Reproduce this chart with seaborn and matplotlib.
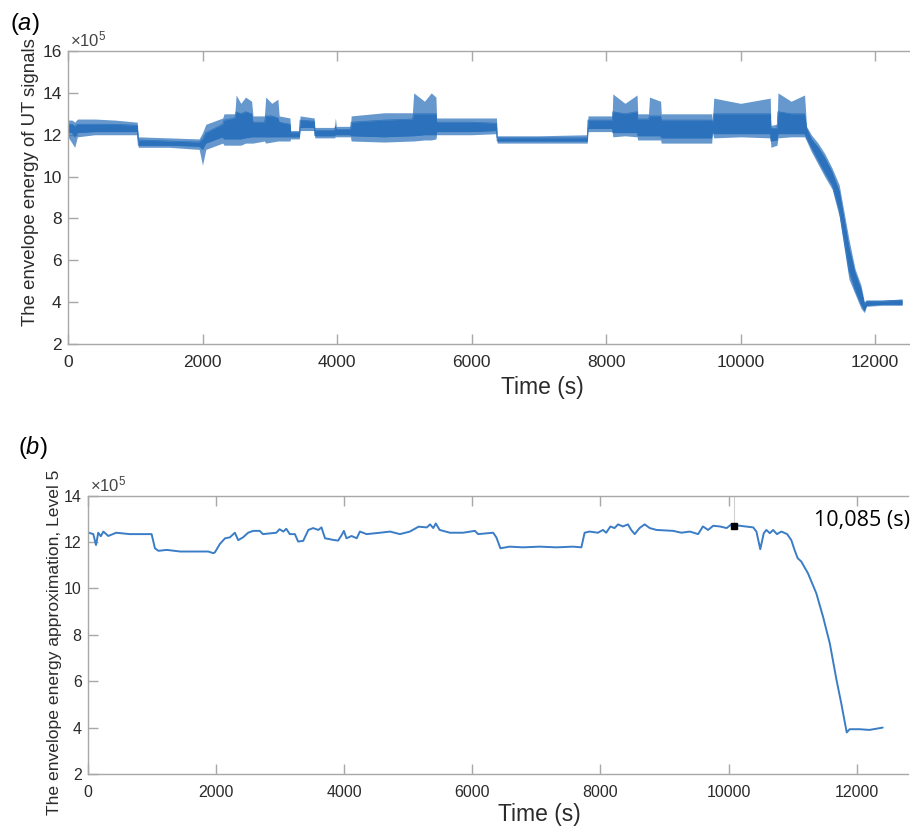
import matplotlib
matplotlib.use("Agg")
import matplotlib.pyplot as plt
import seaborn as sns
import pandas as pd

# ---- (a) raw envelope energy (x1e5): outer spread and dense core of the noisy trace ----
t_env = [0, 60, 100, 140, 400, 700, 1030, 1045, 1500, 1950,
         2000, 2050, 2300, 2320, 2480, 2500, 2570, 2640, 2730, 2750,
         2920, 2940, 3030, 3120, 3140, 3300, 3310, 3440, 3450, 3660,
         3670, 3960, 3975, 3990, 4200, 4210, 4700, 5120, 5140, 5300,
         5400, 5470, 5480, 6000, 6370, 6380, 7000, 7720, 7730, 8090,
         8100, 8280, 8460, 8470, 8630, 8645, 8810, 8820, 9570, 9580,
         9600, 10000, 10440, 10450, 10540, 10555, 10750, 10950, 10980, 11050,
         11150, 11250, 11360, 11465, 11610, 11700, 11790, 11840, 11870, 12100,
         12400]
outer_lo = [11.9, 11.6, 11.4, 11.9, 12.0, 12.0, 12.0, 11.4, 11.4, 11.3,
            10.55, 11.3, 11.6, 11.5, 11.5, 11.5, 11.5, 11.6, 11.6, 11.6,
            11.7, 11.6, 11.65, 11.7, 11.7, 11.7, 11.8, 11.8, 12.2, 12.2,
            11.85, 11.85, 11.9, 11.9, 11.9, 11.7, 11.65, 11.7, 11.7, 11.75,
            11.75, 11.8, 12.0, 12.0, 12.05, 11.6, 11.6, 11.6, 12.15, 12.15,
            11.9, 11.95, 11.9, 11.75, 11.75, 11.75, 11.75, 11.6, 11.6, 12.1,
            11.85, 11.9, 11.85, 11.4, 11.5, 11.85, 11.9, 11.9, 11.7, 11.2,
            10.6, 10.0, 9.4, 8.1, 5.1, 4.4, 3.7, 3.5, 3.8, 3.85,
            3.85]
outer_hi = [12.7, 12.7, 12.6, 12.75, 12.75, 12.7, 12.6, 11.9, 11.85, 11.8,
            12.1, 12.5, 12.8, 13.0, 13.0, 13.9, 13.5, 13.8, 13.6, 12.9,
            12.9, 13.8, 13.5, 13.7, 12.9, 12.8, 12.2, 12.2, 12.9, 12.8,
            12.35, 12.35, 12.8, 12.4, 12.4, 12.9, 13.05, 13.05, 14.0, 13.6,
            14.0, 13.8, 12.8, 12.8, 12.8, 11.95, 11.95, 12.0, 12.9, 12.9,
            13.95, 13.5, 13.9, 13.0, 13.0, 13.8, 13.6, 13.0, 13.0, 12.6,
            13.75, 13.5, 13.75, 12.45, 12.5, 14.0, 13.6, 13.9, 12.4, 12.0,
            11.6, 11.1, 10.4, 9.6, 7.0, 5.6, 4.8, 4.0, 4.1, 4.1,
            4.15]
core_lo = [12.1, 12.1, 11.9, 12.1, 12.15, 12.15, 12.15, 11.5, 11.5, 11.45,
           11.3, 11.6, 11.9, 11.8, 11.8, 11.8, 11.8, 11.85, 11.9, 11.9,
           11.9, 11.9, 11.9, 11.9, 11.9, 11.9, 11.9, 11.9, 12.35, 12.35,
           11.95, 11.95, 12.0, 12.0, 12.0, 11.95, 11.9, 11.95, 11.95, 12.0,
           12.0, 12.0, 12.15, 12.15, 12.2, 11.7, 11.7, 11.7, 12.3, 12.3,
           12.1, 12.1, 12.1, 11.95, 11.95, 11.95, 11.95, 11.85, 11.85, 12.2,
           12.05, 12.05, 12.05, 11.7, 11.75, 12.05, 12.05, 12.05, 11.85, 11.4,
           10.8, 10.2, 9.6, 8.4, 5.5, 4.6, 3.9, 3.6, 3.85, 3.9,
           3.9]
core_hi = [12.5, 12.5, 12.4, 12.5, 12.5, 12.5, 12.45, 11.75, 11.7, 11.65,
           11.8, 12.1, 12.5, 12.7, 12.8, 13.1, 13.0, 13.1, 13.0, 12.6,
           12.6, 12.9, 12.9, 12.8, 12.6, 12.5, 12.1, 12.1, 12.7, 12.65,
           12.2, 12.2, 12.4, 12.25, 12.25, 12.6, 12.7, 12.75, 13.0, 13.0,
           13.0, 13.0, 12.6, 12.6, 12.55, 11.85, 11.85, 11.85, 12.7, 12.7,
           13.1, 13.0, 13.1, 12.75, 12.75, 12.9, 12.9, 12.7, 12.7, 12.5,
           13.0, 13.0, 13.0, 12.3, 12.3, 13.1, 13.0, 13.0, 12.3, 11.8,
           11.4, 10.9, 10.2, 9.3, 6.6, 5.4, 4.6, 3.9, 4.05, 4.05,
           4.1]

# ---- (b) level-5 approximation of the envelope energy (x1e5) ----
t_approx = [0, 83, 125, 160, 200, 240, 317, 440, 650, 993, 1045, 1100, 1230, 1440,
            1700, 1877, 1955, 1980, 2060, 2140, 2215, 2293, 2345, 2420, 2500, 2580,
            2680, 2730, 2940, 2990, 3050, 3095, 3150, 3230, 3280, 3360, 3440, 3515,
            3595, 3645, 3700, 3830, 3905, 3960, 3995, 4035, 4115, 4195, 4245, 4350,
            4560, 4715, 4870, 5025, 5160, 5290, 5340, 5390, 5430, 5490, 5650, 5855,
            6040, 6090, 6325, 6375, 6438, 6583, 6791, 7051, 7311, 7571, 7702, 7753,
            7830, 7960, 8040, 8090, 8155, 8220, 8275, 8350, 8430, 8480, 8535, 8610,
            8690, 8770, 8875, 9135, 9265, 9395, 9525, 9600, 9680, 9760, 9865, 9970,
            10045, 10175, 10385, 10435, 10495, 10550, 10590, 10645, 10695, 10755,
            10825, 10915, 10980, 11030, 11080, 11135, 11240, 11370, 11475, 11580,
            11685, 11760, 11845, 11890, 12045, 12200, 12407]
e_approx = [12.41, 12.34, 11.87, 12.4, 12.25, 12.45, 12.26, 12.4, 12.34, 12.34,
            11.73, 11.62, 11.66, 11.59, 11.59, 11.59, 11.52, 11.55, 11.92, 12.16,
            12.2, 12.4, 12.08, 12.2, 12.4, 12.48, 12.48, 12.34, 12.4, 12.55, 12.45,
            12.57, 12.34, 12.34, 12.02, 12.05, 12.52, 12.6, 12.52, 12.63, 12.16,
            12.09, 12.06, 12.3, 12.48, 12.16, 12.26, 12.16, 12.45, 12.34, 12.4,
            12.45, 12.34, 12.45, 12.66, 12.63, 12.76, 12.6, 12.8, 12.52, 12.4, 12.4,
            12.48, 12.34, 12.4, 12.2, 11.73, 11.8, 11.77, 11.8, 11.77, 11.8, 11.77,
            12.4, 12.45, 12.4, 12.52, 12.4, 12.67, 12.6, 12.76, 12.67, 12.76, 12.52,
            12.34, 12.6, 12.76, 12.6, 12.52, 12.48, 12.4, 12.45, 12.34, 12.67, 12.52,
            12.7, 12.67, 12.6, 12.76, 12.7, 12.63, 12.45, 11.69, 12.38, 12.52, 12.38,
            12.52, 12.34, 12.45, 12.34, 12.08, 11.66, 11.3, 11.16, 10.65, 9.79, 8.78,
            7.64, 6.06, 5.04, 3.79, 3.93, 3.93, 3.9, 4.0]

# data tip on the approximation curve
tip_time = 10085
tip_value = 12.7

ticks_a = [2, 4, 6, 8, 10, 12, 14, 16]
ticks_b = [2, 4, 6, 8, 10, 12, 14]
time_ticks = [0, 2000, 4000, 6000, 8000, 10000, 12000]

sns.set_theme(style="white")
plt.rcParams["font.family"] = ["Liberation Sans", "DejaVu Sans"]
plt.rcParams["mathtext.fontset"] = "custom"
plt.rcParams["mathtext.rm"] = "Liberation Sans"
plt.rcParams["mathtext.it"] = "Liberation Sans:italic"

BLUE_A = "#2b71bb"
BLUE_B = "#3a7dc6"
AX_GRAY = "#a8a8a8"
TXT = "#2b2b2b"

fig = plt.figure(figsize=(9.10, 8.31), dpi=100)
ax1 = fig.add_axes([0.0747, 0.586, 0.924, 0.3526])
ax2 = fig.add_axes([0.0967, 0.0686, 0.901, 0.335])

# (a): noisy trace shown as a lighter outer spread with a solid dense core
df_a = pd.DataFrame({"t": t_env, "olo": outer_lo, "ohi": outer_hi,
                     "clo": core_lo, "chi": core_hi})
ax1.fill_between(df_a["t"], df_a["olo"], df_a["ohi"], color=BLUE_A,
                 alpha=0.72, linewidth=0)
ax1.fill_between(df_a["t"], df_a["clo"], df_a["chi"], color=BLUE_A, linewidth=0)
sns.lineplot(data=df_a, x="t", y="clo", ax=ax1, color=BLUE_A, linewidth=0.5)
sns.lineplot(data=df_a, x="t", y="chi", ax=ax1, color=BLUE_A, linewidth=0.5)

# (b): smooth approximation
df_b = pd.DataFrame({"t": t_approx, "e": e_approx})
sns.lineplot(data=df_b, x="t", y="e", ax=ax2, color=BLUE_B, linewidth=1.4)

ax1.set_xlim(0, 12500)
ax1.set_ylim(2, 16)
ax1.set_yticks(ticks_a)
ax2.set_xlim(0, 12800)
ax2.set_ylim(2, 14)
ax2.set_yticks(ticks_b)

for ax, lsize in ((ax1, 12.5), (ax2, 11.5)):
    ax.set_xticks(time_ticks)
    ax.set_xticklabels([str(v) for v in time_ticks])
    ax.spines["right"].set_visible(False)
    for side in ("left", "bottom", "top"):
        ax.spines[side].set_color(AX_GRAY)
        ax.spines[side].set_linewidth(1.0)
    ax.tick_params(axis="both", direction="in", length=7, width=1.0,
                   color=AX_GRAY, labelcolor=TXT, labelsize=lsize,
                   top=True, bottom=True, left=True, right=False)
    ax.tick_params(axis="x", pad=8)
    ax.tick_params(axis="y", pad=4.5)
    ax.set_xlabel("Time (s)", fontsize=16.5, color=TXT)
    ax.text(0.003, 1.006, r"$\times$10$^5$", transform=ax.transAxes,
            fontsize=12, color="#444444", ha="left", va="bottom")

ax1.set_ylabel("The envelope energy of UT signals", fontsize=13.4, color=TXT)
ax1.yaxis.set_label_coords(-0.0345, 0.553)
ax1.xaxis.set_label_coords(0.564, -0.11)

ax2.set_ylabel("The envelope energy approximation, Level 5", fontsize=12.6, color=TXT)
ax2.yaxis.set_label_coords(-0.032, 0.474)
ax2.xaxis.set_label_coords(0.551, -0.105)

# data tip marker, guide and label
ax2.plot([tip_time, tip_time], [tip_value, 14], color="#d0d0d0", linewidth=0.8)
ax2.plot([tip_time], [tip_value], marker="s", color="black", markersize=4.5,
         linestyle="none")
ax2.text(0.944, 0.91, f"{tip_time:,} (s)", transform=ax2.transAxes,
         fontsize=15.5, family="Open Sans", color="black", ha="center", va="center")

fig.text(0.011, 0.971, r"($a$)", fontsize=17, color="black", ha="left", va="center")
fig.text(0.020, 0.462, r"($b$)", fontsize=17, color="black", ha="left", va="center")

fig.savefig("out.png", dpi=100, facecolor="white")
